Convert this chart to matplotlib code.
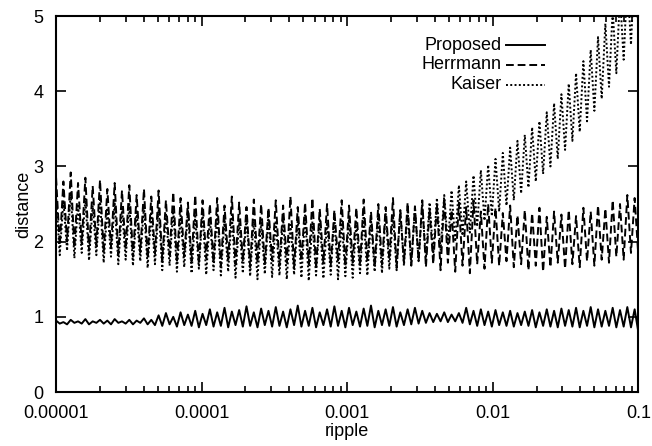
import numpy as np
import matplotlib
matplotlib.use("Agg")
import matplotlib.pyplot as plt
from matplotlib.ticker import FixedLocator, LogLocator, NullFormatter

# peak / trough values of each oscillation (80 per series)
proposed_hi = [0.95, 0.93, 0.96, 0.94, 0.97, 0.94, 0.96, 0.95, 0.97, 0.94,
               0.96, 0.95, 0.98, 0.96, 1.02, 1.05, 1.00, 1.06, 1.03, 1.08,
               1.04, 1.10, 1.06, 1.12, 1.07, 1.09, 1.14, 1.06, 1.11, 1.08,
               1.13, 1.07, 1.10, 1.15, 1.08, 1.12, 1.06, 1.10, 1.14, 1.08,
               1.12, 1.07, 1.11, 1.15, 1.08, 1.10, 1.13, 1.06, 1.10, 1.12,
               1.08, 1.05, 1.04, 1.06, 1.03, 1.05, 1.12, 1.08, 1.10, 1.07,
               1.09, 1.06, 1.08, 1.05, 1.07, 1.09, 1.06, 1.10, 1.08, 1.11,
               1.09, 1.12, 1.08, 1.13, 1.10, 1.08, 1.12, 1.09, 1.13, 1.10]
proposed_lo = [0.91, 0.90, 0.92, 0.91, 0.90, 0.92, 0.91, 0.90, 0.92, 0.91,
               0.90, 0.92, 0.90, 0.89, 0.88, 0.90, 0.87, 0.89, 0.88, 0.86,
               0.89, 0.87, 0.88, 0.86, 0.89, 0.87, 0.88, 0.86, 0.89, 0.87,
               0.88, 0.86, 0.89, 0.87, 0.88, 0.86, 0.89, 0.87, 0.88, 0.86,
               0.89, 0.87, 0.88, 0.86, 0.89, 0.88, 0.87, 0.89, 0.90, 0.91,
               0.92, 0.93, 0.94, 0.93, 0.94, 0.92, 0.90, 0.88, 0.89, 0.87,
               0.89, 0.88, 0.87, 0.89, 0.88, 0.86, 0.88, 0.87, 0.86, 0.88,
               0.87, 0.86, 0.88, 0.86, 0.87, 0.88, 0.86, 0.87, 0.86, 0.80]

herrmann_hi = [2.85, 2.80, 2.92, 2.78, 2.85, 2.74, 2.82, 2.70, 2.78, 2.68,
               2.75, 2.62, 2.70, 2.60, 2.68, 2.55, 2.66, 2.58, 2.52, 2.62,
               2.55, 2.50, 2.58, 2.48, 2.60, 2.52, 2.46, 2.56, 2.50, 2.45,
               2.55, 2.48, 2.60, 2.46, 2.52, 2.58, 2.44, 2.50, 2.42, 2.55,
               2.48, 2.45, 2.56, 2.40, 2.50, 2.46, 2.58, 2.42, 2.52, 2.47,
               2.55, 2.44, 2.50, 2.58, 2.42, 2.52, 2.46, 2.55, 2.40, 2.50,
               2.45, 2.38, 2.48, 2.35, 2.42, 2.38, 2.45, 2.33, 2.40, 2.36,
               2.42, 2.34, 2.45, 2.40, 2.48, 2.44, 2.55, 2.50, 2.62, 2.58]
herrmann_lo = [1.95, 2.00, 1.92, 1.98, 1.88, 1.95, 1.85, 1.92, 1.83, 1.90,
               1.80, 1.86, 1.78, 1.84, 1.75, 1.82, 1.72, 1.80, 1.74, 1.70,
               1.78, 1.72, 1.68, 1.76, 1.70, 1.74, 1.66, 1.72, 1.69, 1.75,
               1.68, 1.72, 1.66, 1.74, 1.70, 1.65, 1.72, 1.68, 1.75, 1.67,
               1.72, 1.68, 1.74, 1.66, 1.70, 1.76, 1.65, 1.72, 1.68, 1.74,
               1.66, 1.70, 1.62, 1.72, 1.60, 1.68, 1.58, 1.70, 1.64, 1.72,
               1.68, 1.74, 1.66, 1.70, 1.62, 1.68, 1.60, 1.66, 1.72, 1.64,
               1.70, 1.66, 1.74, 1.68, 1.76, 1.72, 1.80, 1.76, 1.85, 1.82]

kaiser_hi = [2.62, 2.55, 2.66, 2.50, 2.58, 2.48, 2.56, 2.45, 2.52, 2.44,
             2.50, 2.42, 2.48, 2.40, 2.46, 2.38, 2.44, 2.35, 2.42, 2.34,
             2.40, 2.32, 2.38, 2.30, 2.36, 2.28, 2.35, 2.30, 2.26, 2.34,
             2.28, 2.32, 2.25, 2.30, 2.35, 2.27, 2.31, 2.26, 2.33, 2.28,
             2.30, 2.26, 2.34, 2.29, 2.33, 2.38, 2.35, 2.42, 2.40, 2.45,
             2.48, 2.52, 2.58, 2.62, 2.68, 2.75, 2.80, 2.88, 2.95, 3.02,
             3.10, 3.18, 3.25, 3.34, 3.42, 3.52, 3.60, 3.72, 3.84, 3.96,
             4.10, 4.24, 4.40, 4.55, 4.72, 4.90, 5.08, 5.28, 5.48, 5.70]
kaiser_lo = [1.82, 1.88, 1.78, 1.85, 1.75, 1.82, 1.72, 1.80, 1.70, 1.76,
             1.68, 1.74, 1.65, 1.70, 1.62, 1.68, 1.60, 1.66, 1.58, 1.64,
             1.56, 1.62, 1.55, 1.60, 1.52, 1.58, 1.54, 1.50, 1.57, 1.53,
             1.55, 1.50, 1.56, 1.52, 1.48, 1.55, 1.51, 1.56, 1.50, 1.54,
             1.52, 1.58, 1.55, 1.60, 1.58, 1.64, 1.62, 1.68, 1.70, 1.74,
             1.78, 1.84, 1.88, 1.95, 2.00, 2.08, 2.12, 2.20, 2.28, 2.34,
             2.40, 2.48, 2.55, 2.64, 2.72, 2.80, 2.90, 3.00, 3.10, 3.22,
             3.34, 3.46, 3.60, 3.74, 3.90, 4.06, 4.24, 4.42, 4.62, 4.85]

series_names = ["Proposed", "Herrmann", "Kaiser"]
x_ticks = [1e-5, 1e-4, 1e-3, 1e-2, 1e-1]
x_ticklabels = ["0.00001", "0.0001", "0.001", "0.01", "0.1"]
y_ticks = [0, 1, 2, 3, 4, 5]


def interleave(hi, lo):
    out = []
    for h, l in zip(hi, lo):
        out += [h, l]
    return np.array(out)


series = [interleave(proposed_hi, proposed_lo),
          interleave(herrmann_hi, herrmann_lo),
          interleave(kaiser_hi, kaiser_lo)]
ripple = np.logspace(-5, -1, len(series[0]))

plt.rcParams["font.family"] = ["Liberation Sans", "DejaVu Sans"]
plt.rcParams["font.size"] = 13

fig = plt.figure(figsize=(6.52, 4.46), dpi=100)
ax = fig.add_axes([0.086, 0.121, 0.893, 0.843])

styles = [dict(linestyle="-", linewidth=1.4),
          dict(linestyle=(0, (4, 2)), linewidth=1.4),
          dict(linestyle=(0, (1, 1.2)), linewidth=1.4)]

for y, name, st in zip(series, series_names, styles):
    ax.plot(ripple, y, color="black", label=name, **st)

ax.set_xscale("log")
ax.set_xlim(1e-5, 1e-1)
ax.set_ylim(0, 5)
ax.xaxis.set_major_locator(FixedLocator(x_ticks))
ax.set_xticklabels(x_ticklabels)
ax.xaxis.set_minor_locator(LogLocator(base=10, subs=np.arange(2, 10)))
ax.xaxis.set_minor_formatter(NullFormatter())
ax.set_yticks(y_ticks)
ax.tick_params(which="both", direction="in", top=True, right=True, width=1.2)
ax.tick_params(which="major", length=7)
ax.tick_params(which="minor", length=4)
ax.tick_params(axis="x", which="major", pad=9)
ax.tick_params(axis="y", which="major", pad=9)
for sp in ax.spines.values():
    sp.set_linewidth(1.5)

ax.set_xlabel("ripple", labelpad=1)
ax.set_ylabel("distance", labelpad=1)

# gnuplot style key: right-justified labels with the line sample after them
for k, (name, st) in enumerate(zip(series_names, styles)):
    yk = 0.923 - k * 0.053
    ax.text(0.765, yk, name, transform=ax.transAxes, ha="right", va="center")
    ax.plot([0.773, 0.84], [yk, yk], transform=ax.transAxes, color="black", **st)

fig.savefig("out.png", dpi=100)
